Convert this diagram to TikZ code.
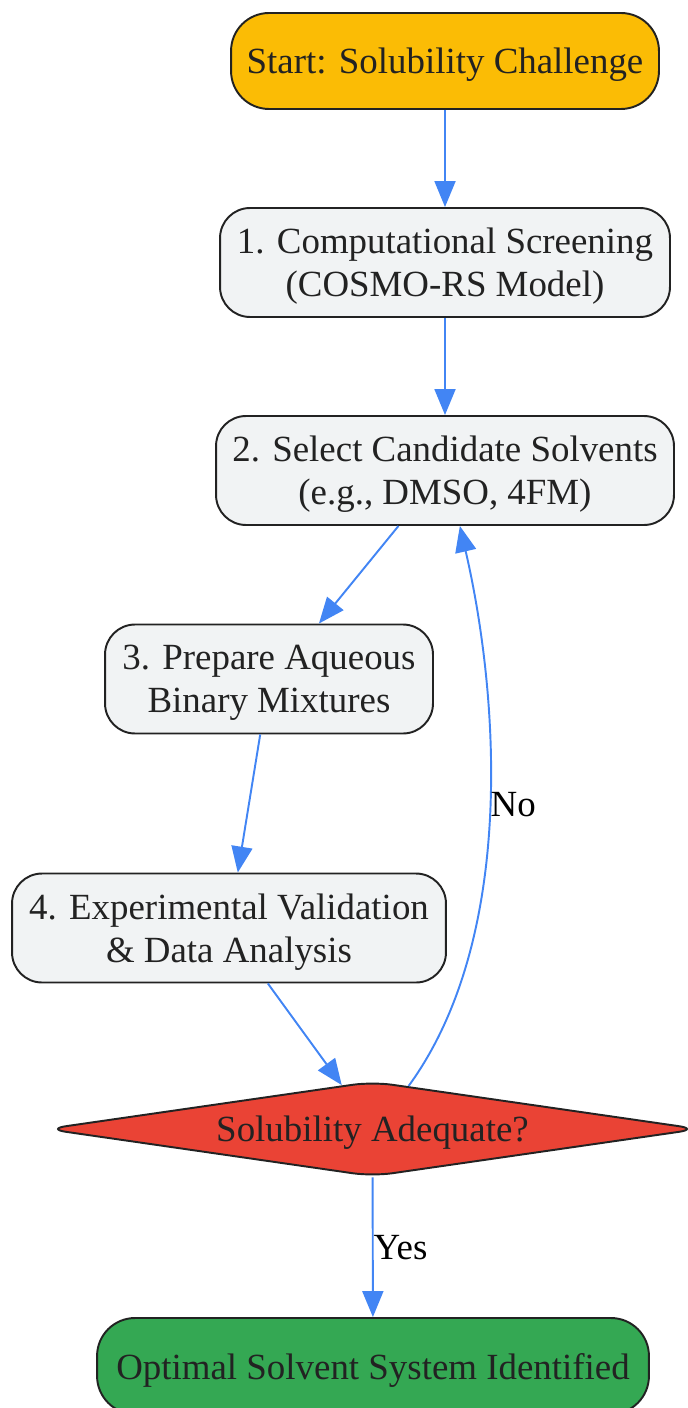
\documentclass[tikz,border=0pt]{standalone}
\usepackage{fontspec}
\setmainfont{Liberation Serif}
\usetikzlibrary{shapes.geometric,arrows.meta}
\definecolor{startyellow}{HTML}{FBBC05}
\definecolor{boxgray}{HTML}{F1F3F4}
\definecolor{checkred}{HTML}{EA4335}
\definecolor{endgreen}{HTML}{34A853}
\definecolor{flowblue}{HTML}{4285F4}
\definecolor{inkgray}{HTML}{222222}
\tikzstyle{stage} = [rectangle, rounded corners=0.6cm, draw=inkgray, line width=1.1pt, fill=boxgray, text=inkgray, align=center, minimum height=2.18cm, inner sep=0pt, text depth=0pt, font=\fontsize{21}{24.4}\selectfont]
\tikzstyle{terminal} = [stage, rounded corners=0.76cm, minimum height=1.92cm]
\tikzstyle{check} = [diamond, aspect=6.84, rounded corners=0.4cm, draw=inkgray, line width=1.1pt, fill=checkred, text=inkgray, minimum width=13.06cm, minimum height=1.9cm, inner sep=0pt, text depth=0pt, font=\fontsize{21}{24.4}\selectfont]
\tikzstyle{flow} = [draw=flowblue, line width=1.1pt, -{Triangle[length=0.52cm, width=0.42cm]}]
\tikzstyle{answer} = [text=black, inner sep=0pt, anchor=west, font=\fontsize{21}{24.4}\selectfont]

\begin{document}
\begin{tikzpicture}[x=0.02cm, y=-0.02cm]
		\useasboundingbox (0,0) rectangle (687,1408);
		\node [terminal, fill=startyellow, minimum width=8.56cm] (start) at (445,61) {Start: Solubility Challenge};
		\node [stage, minimum width=9cm] (screen) at (445,262.5) {1. Computational Screening\\(COSMO-RS Model)};
		\node [stage, minimum width=9.16cm] (select) at (445,470.5) {2. Select Candidate Solvents\\(e.g., DMSO, 4FM)};
		\node [stage, minimum width=6.56cm] (prepare) at (269,679) {3. Prepare Aqueous\\Binary Mixtures};
		\node [stage, minimum width=8.68cm] (validate) at (229,928) {4. Experimental Validation\\\& Data Analysis};
		\node [check] (adequate) at (372.5,1129) {Solubility Adequate?};
		\node [terminal, fill=endgreen, minimum width=11.04cm] (optimal) at (373,1366) {Optimal Solvent System Identified};
		\draw [flow] (start) -- (screen);
		\draw [flow] (screen) -- (select);
		\draw [flow] (select.230) -- (prepare.48);
		\draw [flow] (prepare.261) -- (validate.81);
		\draw [flow] (validate.305) -- (adequate.125);
		\draw [flow] (adequate.50) .. controls (515,940) and (500,700) .. node [answer, pos=0.52] {No} (select.285);
		\draw [flow] (adequate) -- node [answer] {Yes} (optimal);
\end{tikzpicture}
\end{document}
